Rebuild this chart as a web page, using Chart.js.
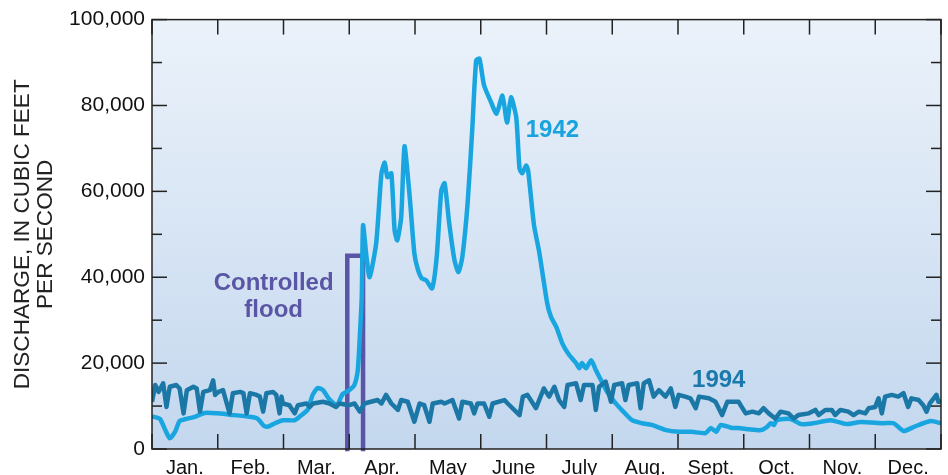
<!DOCTYPE html>
<html>
<head>
<meta charset="utf-8">
<script src="https://cdn.jsdelivr.net/npm/chart.js@4.4.1/dist/chart.umd.min.js"></script>
<style>
  body { margin: 0; background: #ffffff; }
  #wrap { width: 948px; height: 475px; }
</style>
</head>
<body>
<div id="wrap"><canvas id="flowChart"></canvas></div>
<script>
// x values are in months from Jan. 1 (0 = start of Jan., 12 = end of Dec.)
const monthLabels = ["Jan.", "Feb.", "Mar.", "Apr.", "May", "June", "July", "Aug.", "Sept.", "Oct.", "Nov.", "Dec."];

const months1942 = [0, 0.12, 0.20, 0.27, 0.35, 0.42, 0.52, 0.65, 0.80, 0.99, 1.18, 1.49, 1.61, 1.70, 1.76, 1.87, 1.99, 2.17, 2.25, 2.37, 2.44, 2.52, 2.60, 2.70, 2.81, 2.90, 3.00, 3.08, 3.13, 3.16, 3.19, 3.21, 3.26, 3.31, 3.41, 3.49, 3.54, 3.58, 3.64, 3.69, 3.73, 3.79, 3.84, 3.92, 3.99, 4.04, 4.10, 4.17, 4.26, 4.33, 4.40, 4.45, 4.52, 4.60, 4.66, 4.72, 4.80, 4.87, 4.93, 4.98, 5.05, 5.15, 5.24, 5.33, 5.40, 5.46, 5.54, 5.59, 5.63, 5.69, 5.72, 5.81, 5.89, 6.01, 6.07, 6.15, 6.24, 6.34, 6.45, 6.50, 6.54, 6.60, 6.68, 6.75, 6.83, 6.91, 6.98, 7.06, 7.15, 7.30, 7.45, 7.60, 7.82, 8.01, 8.21, 8.42, 8.50, 8.58, 8.65, 8.82, 8.92, 9.08, 9.26, 9.35, 9.41, 9.46, 9.50, 9.71, 9.87, 10.06, 10.32, 10.56, 10.78, 11.12, 11.28, 11.43, 11.58, 11.84, 12.00];
const flow1942 = [7600, 7000, 4500, 2500, 4000, 6500, 7000, 7500, 8400, 8300, 8000, 7500, 7000, 5400, 5200, 6000, 6700, 6700, 7600, 9200, 12500, 14200, 13700, 11500, 10200, 12800, 13700, 15000, 18400, 26000, 35400, 52100, 45000, 40000, 48000, 64200, 66700, 63300, 64200, 50900, 48600, 54000, 70500, 58600, 45600, 42000, 39800, 39300, 37400, 44700, 60200, 61900, 52600, 44000, 41200, 44700, 57200, 74200, 90500, 90900, 84700, 81000, 78100, 82300, 76000, 81900, 77200, 65300, 64200, 66000, 64900, 52100, 45800, 34000, 30700, 28400, 24600, 22000, 20000, 18800, 20000, 18800, 20700, 18400, 16000, 13600, 12100, 10500, 9000, 6700, 6000, 5600, 4400, 4000, 4000, 3700, 4900, 4000, 5600, 4900, 4900, 4600, 4400, 5100, 6000, 5600, 6700, 7000, 5800, 6000, 6700, 5800, 6300, 6000, 6000, 4200, 5100, 6500, 6000];

const months1994 = [0, 0.05, 0.10, 0.17, 0.22, 0.27, 0.37, 0.42, 0.48, 0.53, 0.63, 0.68, 0.73, 0.78, 0.88, 0.93, 0.96, 1.01, 1.08, 1.18, 1.23, 1.34, 1.39, 1.44, 1.49, 1.59, 1.64, 1.69, 1.74, 1.84, 1.89, 1.94, 1.97, 1.99, 2.09, 2.17, 2.22, 2.35, 2.40, 2.45, 2.60, 2.70, 2.80, 2.85, 3.00, 3.08, 3.16, 3.23, 3.33, 3.43, 3.49, 3.56, 3.64, 3.74, 3.79, 3.89, 3.99, 4.07, 4.14, 4.22, 4.27, 4.40, 4.45, 4.57, 4.67, 4.72, 4.85, 4.90, 4.95, 5.05, 5.13, 5.18, 5.36, 5.41, 5.59, 5.64, 5.71, 5.84, 5.96, 6.04, 6.12, 6.19, 6.27, 6.32, 6.45, 6.52, 6.57, 6.70, 6.75, 6.80, 6.90, 6.98, 7.03, 7.15, 7.20, 7.25, 7.38, 7.43, 7.48, 7.56, 7.63, 7.71, 7.81, 7.89, 7.96, 8.01, 8.11, 8.19, 8.27, 8.32, 8.47, 8.57, 8.67, 8.75, 8.92, 9.03, 9.13, 9.23, 9.30, 9.38, 9.48, 9.56, 9.68, 9.76, 9.83, 9.99, 10.09, 10.14, 10.24, 10.34, 10.39, 10.47, 10.59, 10.67, 10.75, 10.85, 10.90, 11.00, 11.05, 11.10, 11.15, 11.25, 11.35, 11.43, 11.50, 11.55, 11.66, 11.73, 11.78, 11.83, 11.91, 11.93, 11.96, 12.00];
const flow1994 = [11000, 14900, 13300, 15300, 9800, 14500, 14900, 14100, 8300, 13700, 14500, 14100, 8700, 13300, 13700, 16000, 12600, 13300, 13700, 8300, 13000, 13300, 13000, 8300, 13000, 12600, 12200, 8700, 13000, 13300, 12600, 8300, 12200, 10600, 10200, 8300, 10200, 10600, 9800, 10600, 11000, 10600, 9800, 10600, 10200, 10600, 8700, 10600, 11000, 11400, 10600, 12600, 10600, 9100, 11400, 11000, 6350, 10600, 10200, 6350, 10600, 11000, 10600, 11400, 7100, 11000, 10600, 8300, 10600, 10600, 7500, 10600, 11400, 10600, 7900, 12200, 12600, 9500, 14100, 12200, 14500, 11400, 9800, 14900, 15300, 11400, 14900, 14900, 9100, 14500, 15700, 11000, 14900, 15300, 11400, 14900, 15300, 9500, 15300, 16000, 12200, 13700, 12200, 14100, 9800, 12600, 12200, 11800, 9500, 12200, 11800, 11000, 7900, 11000, 11000, 8300, 8700, 8300, 9500, 8300, 7100, 8700, 8300, 7100, 7900, 8300, 9100, 7900, 9100, 9100, 7900, 9100, 8700, 7900, 8700, 8300, 9500, 9800, 11800, 8300, 12200, 12600, 12200, 13000, 9800, 11800, 11400, 10200, 8700, 10600, 12200, 12600, 11000, 11000];

const floodMonths = [2.97, 2.97, 3.21, 3.21];
const floodFlow = [0, 45000, 45000, 0];

const toPoints = (xs, ys) => xs.map((x, i) => ({ x: x, y: ys[i] }));

const FONT = "'Liberation Sans', Arial, Helvetica, sans-serif";

/* labels placed on the plot, anchored in data units */
const notes = [
  { text: "Controlled", x: 1.85, y: 38600, color: "#5b55a5" },
  { text: "flood", x: 1.85, y: 32300, color: "#5b55a5" },
  { text: "1942", x: 6.09, y: 74200, color: "#18a3df" },
  { text: "1994", x: 8.62, y: 16000, color: "#1b7aab" },
];

/* gradient plot background, inward tick marks, frame and labels */
const framePlugin = {
  id: "framePlugin",
  beforeDraw(chart) {
    const { ctx, chartArea: a } = chart;
    const g = ctx.createLinearGradient(0, a.top, 0, a.bottom);
    g.addColorStop(0, "#ebf2fa");
    g.addColorStop(1, "#c3d7ee");
    ctx.save();
    ctx.fillStyle = g;
    ctx.fillRect(a.left, a.top, a.right - a.left, a.bottom - a.top);
    ctx.restore();
  },
  afterDraw(chart) {
    const { ctx, chartArea: a, scales } = chart;
    const x = scales.x;
    const y = scales.y;

    ctx.save();
    ctx.strokeStyle = "#222222";
    ctx.lineWidth = 1.5;

    const seg = (x1, y1, x2, y2) => {
      ctx.beginPath();
      ctx.moveTo(x1, y1);
      ctx.lineTo(x2, y2);
      ctx.stroke();
    };

    y.ticks.forEach((t) => {
      const py = y.getPixelForValue(t.value);
      const len = t.value % 20000 === 0 ? 15 : 10;
      seg(a.left, py, a.left + len, py);
      seg(a.right, py, a.right - len, py);
    });

    x.ticks.forEach((t) => {
      if (!Number.isInteger(t.value)) return;
      const px = x.getPixelForValue(t.value);
      seg(px, a.top, px, a.top + 15);
      seg(px, a.bottom, px, a.bottom - 15);
    });

    ctx.strokeRect(a.left, a.top, a.right - a.left, a.bottom - a.top);

    ctx.font = "bold 24px " + FONT;
    ctx.textAlign = "center";
    ctx.textBaseline = "middle";
    notes.forEach((n) => {
      ctx.fillStyle = n.color;
      ctx.fillText(n.text, x.getPixelForValue(n.x), y.getPixelForValue(n.y));
    });
    ctx.restore();
  },
};

new Chart(document.getElementById("flowChart"), {
  type: "line",
  data: {
    datasets: [
      {
        label: "1994",
        data: toPoints(months1994, flow1994),
        borderColor: "#1b78a6",
        borderWidth: 4.5,
        pointRadius: 0,
        tension: 0,
        borderJoinStyle: "round",
      },
      {
        label: "1942",
        data: toPoints(months1942, flow1942),
        borderColor: "#19a5e0",
        borderWidth: 4.5,
        pointRadius: 0,
        tension: 0.2,
        borderJoinStyle: "round",
      },
      {
        label: "Controlled flood",
        data: toPoints(floodMonths, floodFlow),
        borderColor: "#5b55a5",
        borderWidth: 4.5,
        pointRadius: 0,
        tension: 0,
        borderCapStyle: "square",
        borderJoinStyle: "miter",
        clip: false,
      },
    ],
  },
  options: {
    responsive: true,
    maintainAspectRatio: false,
    animation: false,
    layout: {
      padding: { top: 19, right: 5, bottom: 0, left: 0 },
    },
    plugins: {
      legend: { display: false },
      tooltip: { enabled: false },
    },
    scales: {
      x: {
        type: "linear",
        min: 0,
        max: 12,
        grid: { display: false, drawTicks: false },
        border: { display: false },
        ticks: {
          stepSize: 0.5,
          autoSkip: false,
          maxRotation: 0,
          padding: 7,
          color: "#111111",
          font: { family: FONT, size: 20 },
          callback: function (value) {
            if (Number.isInteger(value)) return "";
            return monthLabels[Math.floor(value)];
          },
        },
        afterFit: function (scale) {
          scale.height = 26;
        },
      },
      y: {
        min: 0,
        max: 100000,
        grid: { display: false, drawTicks: false },
        border: { display: false },
        ticks: {
          stepSize: 10000,
          padding: 7,
          color: "#111111",
          font: { family: FONT, size: 21 },
          callback: function (value) {
            if (value % 20000 !== 0) return "";
            return value.toLocaleString("en-US");
          },
        },
        title: {
          display: true,
          text: ["DISCHARGE, IN CUBIC FEET", "PER SECOND"],
          color: "#222222",
          font: { family: FONT, size: 22.6, lineHeight: 1.04 },
          padding: { top: 11, bottom: 0 },
        },
        afterFit: function (scale) {
          scale.width = 152;
        },
      },
    },
  },
  plugins: [framePlugin],
});
</script>
</body>
</html>
